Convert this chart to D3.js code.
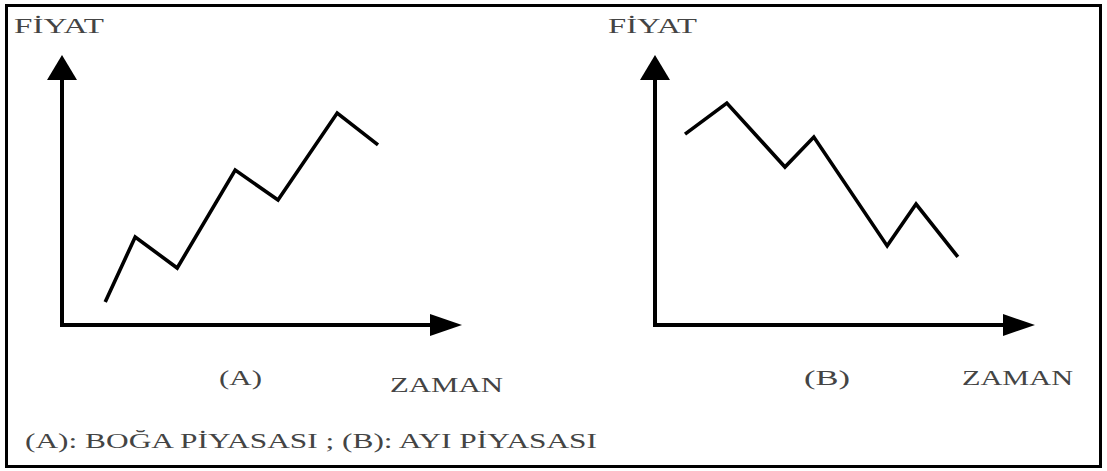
<!DOCTYPE html>
<html>
<head>
<meta charset="utf-8">
<script src="https://cdn.jsdelivr.net/npm/d3@7"></script>
<style>
  body { margin: 0; background: #fff; }
  svg { display: block; }
  text { font-family: "Liberation Serif", "Times New Roman", serif; fill: #444; }
</style>
</head>
<body>
<div id="chart"></div>
<script>
// Boğa / Ayı piyasası şeması — iki panel: fiyat vs zaman
const width = 1107, height = 471;

// veriler (zaman 0-100, fiyat 0-100)
const bogaZaman = [10.8, 18.3, 28.8, 43.3, 54, 68.8, 79];
const bogaFiyat = [8.5, 32.6, 21.1, 57.4, 46.3, 78.5, 66.7];
const ayiZaman  = [7.9, 18.9, 34.2, 41.8, 61.1, 68.7, 79.7];
const ayiFiyat  = [70.7, 82.2, 58.5, 69.6, 29.3, 44.8, 25.2];

const yLabel = "FİYAT";
const xLabel = "ZAMAN";
const panelNames = ["(A)", "(B)"];
const footnote = "(A): BOĞA PİYASASI ; (B): AYI PİYASASI";

const svg = d3.select("#chart").append("svg")
  .attr("width", width).attr("height", height);

// çerçeve
svg.append("rect")
  .attr("x", 6.5).attr("y", 5.5)
  .attr("width", 1094).attr("height", 461)
  .attr("fill", "none").attr("stroke", "#000").attr("stroke-width", 3);

const panels = [
  {zaman: bogaZaman, fiyat: bogaFiyat, x0: 62, x1: 462, name: panelNames[0],
   yLab: {x: 14, w: 90}, nameLab: {x: 219, w: 43, y: 385}, xLab: {x: 390, w: 113, y: 392}},
  {zaman: ayiZaman, fiyat: ayiFiyat, x0: 655, x1: 1035, name: panelNames[1],
   yLab: {x: 608, w: 89}, nameLab: {x: 804, w: 46, y: 385}, xLab: {x: 962, w: 111, y: 385}}
];

const y0 = 325, y1 = 55;
const fs = 21;

panels.forEach(p => {
  const x = d3.scaleLinear().domain([0, 100]).range([p.x0, p.x1]);
  const y = d3.scaleLinear().domain([0, 100]).range([y0, y1]);
  const g = svg.append("g");

  // eksenler
  g.append("line")
    .attr("x1", x(0)).attr("y1", y(0)).attr("x2", x(0)).attr("y2", y(100) + 24)
    .attr("stroke", "#000").attr("stroke-width", 4);
  g.append("line")
    .attr("x1", x(0) - 2).attr("y1", y(0)).attr("x2", x(100) - 30).attr("y2", y(0))
    .attr("stroke", "#000").attr("stroke-width", 4);

  // ok uçları
  g.append("path")
    .attr("d", `M${x(0)},${y(100)} L${x(0) - 15},${y(100) + 25} L${x(0) + 15},${y(100) + 25} Z`)
    .attr("fill", "#000");
  g.append("path")
    .attr("d", `M${x(100)},${y(0)} L${x(100) - 32},${y(0) - 11} L${x(100) - 32},${y(0) + 11} Z`)
    .attr("fill", "#000");

  // fiyat çizgisi
  const pts = p.zaman.map((z, i) => [z, p.fiyat[i]]);
  g.append("path")
    .datum(pts)
    .attr("d", d3.line().x(d => x(d[0])).y(d => y(d[1])))
    .attr("fill", "none").attr("stroke", "#000")
    .attr("stroke-width", 3.6).attr("stroke-linejoin", "miter");

  // etiketler
  g.append("text").attr("x", p.yLab.x).attr("y", 33)
    .attr("font-size", fs).attr("textLength", p.yLab.w).attr("lengthAdjust", "spacingAndGlyphs")
    .text(yLabel);
  g.append("text").attr("x", p.nameLab.x).attr("y", p.nameLab.y)
    .attr("font-size", fs).attr("textLength", p.nameLab.w).attr("lengthAdjust", "spacingAndGlyphs")
    .text(p.name);
  g.append("text").attr("x", p.xLab.x).attr("y", p.xLab.y)
    .attr("font-size", fs).attr("textLength", p.xLab.w).attr("lengthAdjust", "spacingAndGlyphs")
    .text(xLabel);
});

svg.append("text").attr("x", 25).attr("y", 448)
  .attr("font-size", fs).attr("textLength", 572).attr("lengthAdjust", "spacingAndGlyphs")
  .text(footnote);
</script>
</body>
</html>
